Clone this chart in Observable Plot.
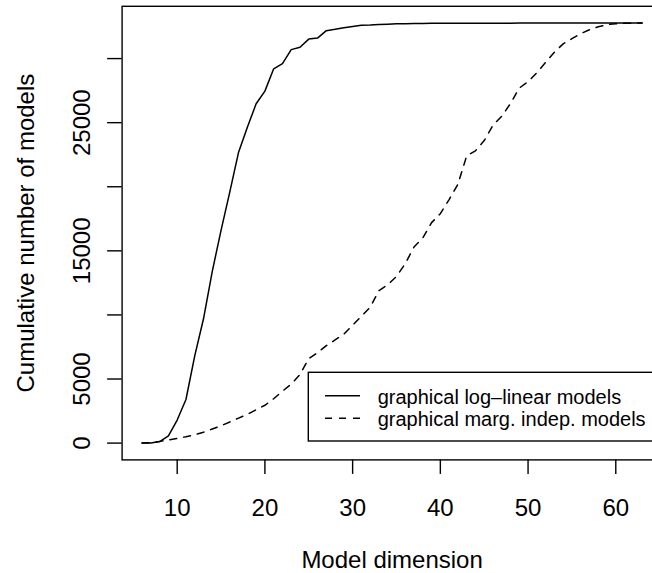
<!DOCTYPE html>
<html><head><meta charset="utf-8">
<script src="https://cdn.jsdelivr.net/npm/d3@7"></script>
<script src="https://cdn.jsdelivr.net/npm/@observablehq/plot@0.6"></script>
<style>html,body{margin:0;padding:0;background:#fff;overflow:hidden}</style>
</head><body><div id="chart"></div>
<script>
const dimensions = [6,7,8,9,10,11,12,13,14,15,16,17,18,19,20,21,22,23,24,25,26,27,28,29,30,31,32,33,34,35,36,37,38,39,40,41,42,43,44,45,46,47,48,49,50,51,52,53,54,55,56,57,58,59,60,61,62,63];
const logLinear = [1,16,120,560,1800,3400,6800,9700,13400,16600,19600,22700,24650,26480,27460,29200,29600,30700,30880,31520,31600,32180,32280,32400,32500,32600,32620,32660,32680,32710,32720,32735,32745,32752,32756,32760,32762,32764,32765,32765,32766,32766,32766,32767,32767,32767,32767,32767,32767,32768,32768,32768,32768,32768,32768,32768,32768,32768];
const margIndep = [1,40,130,250,370,500,650,850,1100,1350,1650,1950,2250,2600,2950,3460,4050,4600,5350,6600,7050,7600,8050,8500,9200,9900,10600,11900,12350,13000,14000,15300,16000,17200,17900,19000,20200,22400,22800,23600,24800,25500,26500,27700,28200,28900,29700,30500,31150,31550,31950,32250,32480,32650,32720,32750,32765,32768];
const seriesNames = ["graphical log\u2013linear models", "graphical marg. indep. models"];
const xTicks = [10,20,30,40,50,60];
const yTicks = [0,5000,10000,15000,20000,25000,30000];
const yTickLabels = [0,5000,15000,25000];
const xLabel = "Model dimension";
const yLabel = "Cumulative number of models";

const rows = [];
dimensions.forEach((d, i) => {
  rows.push({dim: d, count: logLinear[i], series: seriesNames[0]});
  rows.push({dim: d, count: margIndep[i], series: seriesNames[1]});
});

const fontFamily = '"Liberation Sans", Arial, Helvetica, sans-serif';
const dash = "7,7";

const plot = Plot.plot({
  width: 652, height: 573,
  marginLeft: 121.6, marginRight: -9.6, marginTop: 5.8, marginBottom: 113.6,
  style: {fontFamily, fontSize: "24px", color: "black", background: "white"},
  x: {domain: [3.72, 65.28]},
  y: {domain: [-1310.72, 34078.72]},
  marks: [
    Plot.frame({stroke: "black", strokeWidth: 1.4}),
    Plot.axisX({ticks: xTicks, tickSize: 14.5, tickPadding: 25, tickFormat: d => String(d), fontSize: 24, label: null, strokeWidth: 1.4}),
    Plot.axisY({ticks: yTicks, tickSize: 14.5, tickFormat: () => "", label: null, strokeWidth: 1.4}),
    Plot.text(yTickLabels, {y: d => d, text: d => String(d), frameAnchor: "left", rotate: -90, dx: -32.3, textAnchor: "middle", lineAnchor: "bottom", fontSize: 24}),
    Plot.text([yLabel], {text: d => d, frameAnchor: "left", rotate: -90, dx: -88.3, textAnchor: "middle", lineAnchor: "bottom", fontSize: 24}),
    Plot.text([xLabel], {text: d => d, frameAnchor: "bottom", dy: 108.4, textAnchor: "middle", lineAnchor: "bottom", fontSize: 24}),
    Plot.line(rows.filter(r => r.series === seriesNames[0]), {x: "dim", y: "count", stroke: "black", strokeWidth: 1.5}),
    Plot.line(rows.filter(r => r.series === seriesNames[1]), {x: "dim", y: "count", stroke: "black", strokeWidth: 1.5, strokeDasharray: dash})
  ]
});
document.getElementById("chart").appendChild(plot);

// legend box inside the plot area
const svg = d3.select(plot);
const lg = svg.append("g").attr("font-family", fontFamily).attr("font-size", 20).attr("text-anchor", "start");
lg.append("rect").attr("x", 308.3).attr("y", 372.3).attr("width", 360).attr("height", 68.7)
  .attr("fill", "white").attr("stroke", "black").attr("stroke-width", 1.4);
const rowsY = [395.7, 418.3];
seriesNames.forEach((name, i) => {
  lg.append("line").attr("x1", 325).attr("x2", 360).attr("y1", rowsY[i]).attr("y2", rowsY[i])
    .attr("stroke", "black").attr("stroke-width", 1.5).attr("stroke-dasharray", i === 1 ? dash : null);
  lg.append("text").attr("x", 377.7).attr("y", rowsY[i] + 7.8).attr("fill", "black").attr("text-anchor", "start").text(name);
});
</script></body></html>
